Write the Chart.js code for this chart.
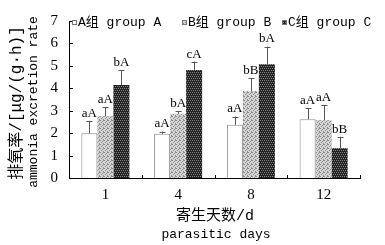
<!DOCTYPE html>
<html>
<head>
<meta charset="utf-8">
<script src="https://cdn.jsdelivr.net/npm/chart.js@4"></script>
<style>
  html, body { margin: 0; padding: 0; background: #fff; }
  #wrap { width: 385px; height: 245px; }
</style>
</head>
<body>
<div id="wrap"><canvas id="chart" width="385" height="245"></canvas></div>
<script>
// data
const days = ["1", "4", "8", "12"];
const groupNames = ["A组 group A", "B组 group B", "C组 group C"];
const groupA = [2.0, 1.97, 2.37, 2.62];
const groupB = [2.75, 2.86, 3.88, 2.58];
const groupC = [4.15, 4.82, 5.07, 1.33];
const errA = [0.55, 0.1, 0.37, 0.48];
const errB = [0.42, 0.11, 0.57, 0.67];
const errC = [0.66, 0.37, 0.79, 0.51];
const lettersA = ["aA", "aA", "aA", "aA"];
const lettersB = ["aA", "bA", "bB", "aA"];
const lettersC = ["bA", "cA", "bA", "bB"];
const yTicks = [0, 1, 2, 3, 4, 5, 6, 7];

const MONO = '"Liberation Mono", "Noto Sans CJK SC", monospace';
const SERIF = '"Liberation Serif", "DejaVu Serif", serif';

// small texture fills like the printed figure
function makePattern(bg, fg, dots) {
  const c = document.createElement("canvas");
  c.width = 4; c.height = 4;
  const g = c.getContext("2d");
  g.fillStyle = bg;
  g.fillRect(0, 0, 4, 4);
  g.fillStyle = fg;
  dots.forEach(([x, y]) => g.fillRect(x, y, 1, 1));
  return g.createPattern(c, "repeat");
}
const patB = makePattern("#d6d6d6", "#8a8a8a", [[0, 0], [2, 1], [1, 2], [3, 3], [3, 0]]);
const patC = makePattern("#222", "#858585", [[0, 0], [2, 0], [1, 2], [3, 2]]);

const errs = [errA, errB, errC];
const letters = [lettersA, lettersB, lettersC];

const extras = {
  id: "extras",
  afterDatasetsDraw(chart) {
    const ctx = chart.ctx;
    const y = chart.scales.y;
    ctx.save();
    // error bars (upper only) and significance letters
    chart.data.datasets.forEach((ds, di) => {
      const meta = chart.getDatasetMeta(di);
      meta.data.forEach((bar, i) => {
        const top = y.getPixelForValue(ds.data[i] + errs[di][i]);
        ctx.strokeStyle = "#555";
        ctx.lineWidth = 1;
        ctx.beginPath();
        ctx.moveTo(Math.round(bar.x) + 0.5, bar.y);
        ctx.lineTo(Math.round(bar.x) + 0.5, top);
        ctx.moveTo(Math.round(bar.x) - 2.5, Math.round(top) + 0.5);
        ctx.lineTo(Math.round(bar.x) + 3.5, Math.round(top) + 0.5);
        ctx.stroke();
        ctx.fillStyle = "#000";
        ctx.font = "13px " + SERIF;
        ctx.textAlign = "center";
        ctx.textBaseline = "bottom";
        ctx.fillText(letters[di][i], bar.x, top - 1);
      });
    });
    ctx.restore();
  },
  afterDraw(chart) {
    const ctx = chart.ctx;
    const a = chart.chartArea;
    const y = chart.scales.y;
    ctx.save();
    ctx.strokeStyle = "#000";
    ctx.lineWidth = 1;
    // inward ticks
    ctx.beginPath();
    yTicks.forEach(v => {
      const py = Math.round(y.getPixelForValue(v)) + 0.5;
      ctx.moveTo(a.left, py);
      ctx.lineTo(a.left + 4, py);
    });
    const w = (a.right - a.left) / days.length;
    for (let i = 1; i <= days.length; i++) {
      const px = Math.round(a.left + w * i) + 0.5;
      ctx.moveTo(px, a.bottom);
      ctx.lineTo(px, a.bottom - 3);
    }
    ctx.stroke();

    // legend inside the top of the plot
    const items = [
      { x: 72, fill: "#fff" },
      { x: 182, fill: patB },
      { x: 282, fill: patC }
    ];
    items.forEach((it, k) => {
      ctx.fillStyle = it.fill;
      ctx.fillRect(it.x, 20, 5, 5);
      ctx.strokeStyle = "#777";
      ctx.strokeRect(it.x + 0.5, 20.5, 4, 4);
      ctx.fillStyle = "#000";
      ctx.font = "13px " + MONO;
      ctx.textAlign = "left";
      ctx.textBaseline = "middle";
      ctx.fillText(groupNames[k], it.x + 6, 23);
    });

    // axis titles
    ctx.fillStyle = "#000";
    ctx.textAlign = "center";
    ctx.textBaseline = "middle";
    ctx.font = "15px " + MONO;
    ctx.fillText("寄生天数/d", 215, 216);
    ctx.font = "13px " + MONO;
    ctx.fillText("parasitic days", 216, 235);

    ctx.save();
    ctx.translate(17, 103);
    ctx.rotate(-Math.PI / 2);
    ctx.font = "16px " + MONO;
    ctx.fillText("排氧率/[μg/(g·h)]", 0, 0);
    ctx.restore();
    ctx.save();
    ctx.translate(34, 102);
    ctx.rotate(-Math.PI / 2);
    ctx.font = "13px " + MONO;
    ctx.fillText("ammonia excretion rate", 0, 0);
    ctx.restore();
    ctx.restore();
  }
};

new Chart(document.getElementById("chart"), {
  type: "bar",
  data: {
    labels: days,
    datasets: [
      { label: groupNames[0], data: groupA, backgroundColor: "#fff", borderColor: "#888", borderWidth: 1 },
      { label: groupNames[1], data: groupB, backgroundColor: patB, borderWidth: 0 },
      { label: groupNames[2], data: groupC, backgroundColor: patC, borderWidth: 0 }
    ]
  },
  options: {
    responsive: false,
    animation: false,
    layout: { padding: { left: 0, right: 25, top: 21, bottom: 0 } },
    datasets: { bar: { categoryPercentage: 0.66, barPercentage: 1 } },
    plugins: { legend: { display: false }, tooltip: { enabled: false } },
    scales: {
      x: {
        grid: { display: false },
        border: { color: "#000", width: 1 },
        ticks: { color: "#000", font: { family: SERIF, size: 15 }, padding: 0 },
        afterFit(s) { s.height = 67; }
      },
      y: {
        min: 0,
        max: 7,
        grid: { display: false },
        border: { color: "#000", width: 1 },
        ticks: { stepSize: 1, color: "#000", font: { family: SERIF, size: 15 }, padding: 3 },
        afterFit(s) { s.width = 69; }
      }
    }
  },
  plugins: [extras]
});
</script>
</body>
</html>
